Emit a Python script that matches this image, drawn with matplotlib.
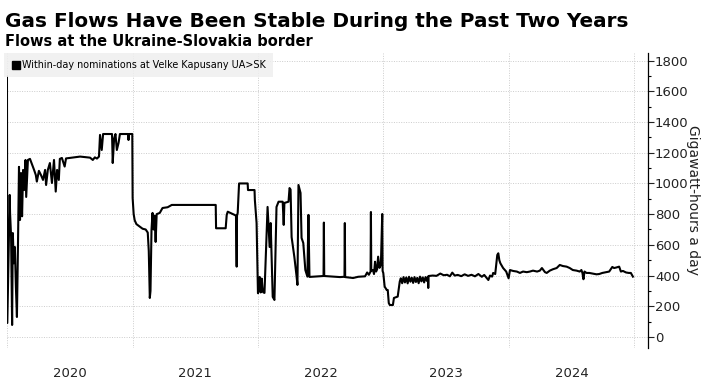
import numpy as np
import pandas as pd
import matplotlib
matplotlib.use("Agg")
import matplotlib.pyplot as plt
from matplotlib.lines import Line2D

# Within-day nominations at Velke Kapusany UA>SK, GWh/day
dates_2020 = ["2020-01-01", "2020-01-02", "2020-01-09", "2020-01-10", "2020-01-13", "2020-01-16",
              "2020-01-18", "2020-01-21", "2020-01-24", "2020-01-27", "2020-01-30", "2020-02-02",
              "2020-02-05", "2020-02-08", "2020-02-11", "2020-02-14", "2020-02-17", "2020-02-20",
              "2020-02-24", "2020-02-26", "2020-03-02", "2020-03-08", "2020-03-20", "2020-03-25",
              "2020-03-28", "2020-04-03", "2020-04-09", "2020-04-15", "2020-04-21", "2020-04-24",
              "2020-04-29", "2020-05-05", "2020-05-11", "2020-05-17", "2020-05-22", "2020-05-26",
              "2020-05-31", "2020-06-03", "2020-06-09", "2020-06-17", "2020-06-21", "2020-08-01",
              "2020-08-30", "2020-09-07", "2020-09-13", "2020-09-19", "2020-09-25", "2020-09-28",
              "2020-10-03", "2020-10-07", "2020-11-02", "2020-11-04", "2020-11-08", "2020-11-12",
              "2020-11-16", "2020-11-21", "2020-11-25", "2020-12-19", "2020-12-20", "2020-12-21",
              "2020-12-31"]
values_2020 = [1696, 91, 925, 808, 654, 78,
               677, 480, 586, 326, 130, 586,
               1108, 762, 1068, 786, 1088, 957,
               1153, 912, 1153, 1160, 1088, 1055,
               1012, 1082, 1055, 1023, 1088, 990,
               1088, 1133, 1003, 1153, 947, 1088,
               1023, 1160, 1166, 1110, 1163, 1175,
               1168, 1153, 1170, 1162, 1175, 1316,
               1218, 1322, 1322, 1133, 1290, 1322,
               1218, 1264, 1322, 1322, 1283, 1322,
               1322]

dates_2021 = ["2021-01-01", "2021-01-04", "2021-01-07", "2021-01-12", "2021-01-21", "2021-01-30",
              "2021-02-08", "2021-02-14", "2021-02-17", "2021-02-20", "2021-02-22", "2021-02-25",
              "2021-02-28", "2021-03-03", "2021-03-06", "2021-03-09", "2021-03-12", "2021-03-21",
              "2021-03-29", "2021-04-13", "2021-04-25", "2021-08-31", "2021-09-01", "2021-09-29",
              "2021-10-02", "2021-10-05", "2021-10-25", "2021-10-29", "2021-10-31", "2021-11-01",
              "2021-11-03", "2021-11-07", "2021-12-02", "2021-12-03", "2021-12-22", "2021-12-23",
              "2021-12-28"]
values_2021 = [905, 800, 760, 735, 720, 705,
               700, 680, 560, 254, 300, 700,
               808, 700, 790, 619, 800, 808,
               840, 845, 860, 860, 708, 708,
               795, 816, 795, 790, 458, 790,
               808, 1000, 1000, 957, 957, 892,
               742]

dates_2022 = ["2022-01-01", "2022-01-03", "2022-01-06", "2022-01-09", "2022-01-12", "2022-01-15",
              "2022-01-17", "2022-01-20", "2022-01-23", "2022-01-29", "2022-02-04", "2022-02-07",
              "2022-02-13", "2022-02-18", "2022-02-24", "2022-03-02", "2022-03-14", "2022-03-17",
              "2022-03-19", "2022-03-31", "2022-04-03", "2022-04-06", "2022-04-09", "2022-04-17",
              "2022-04-23", "2022-04-26", "2022-04-29", "2022-05-05", "2022-05-08", "2022-05-13",
              "2022-05-19", "2022-05-25", "2022-05-28", "2022-05-31", "2022-07-11", "2022-07-12",
              "2022-07-13", "2022-08-28", "2022-09-10", "2022-09-11", "2022-09-12", "2022-10-05",
              "2022-10-20", "2022-11-09", "2022-11-15", "2022-11-20", "2022-11-25", "2022-11-26",
              "2022-11-27", "2022-12-02", "2022-12-05", "2022-12-08", "2022-12-11", "2022-12-14",
              "2022-12-17", "2022-12-21", "2022-12-25", "2022-12-29", "2022-12-30"]
values_2022 = [285, 300, 391, 290, 380, 295,
               290, 287, 480, 847, 586, 742,
               261, 241, 847, 881, 881, 730,
               873, 881, 970, 960, 651, 521,
               404, 339, 990, 938, 645, 612,
               436, 393, 795, 391, 397, 745,
               397, 390, 392, 742, 390, 384,
               392, 395, 420, 405, 426, 814,
               430, 436, 410, 490, 426, 440,
               523, 450, 470, 801, 430]

dates_2023 = ["2023-01-01", "2023-01-05", "2023-01-11", "2023-01-14", "2023-01-17", "2023-01-20",
              "2023-01-29", "2023-02-01", "2023-02-12", "2023-02-18", "2023-02-21", "2023-02-25",
              "2023-03-01", "2023-03-05", "2023-03-09", "2023-03-13", "2023-03-17", "2023-03-21",
              "2023-03-25", "2023-03-29", "2023-04-02", "2023-04-06", "2023-04-10", "2023-04-14",
              "2023-04-18", "2023-04-22", "2023-04-26", "2023-04-30", "2023-05-04", "2023-05-08",
              "2023-05-11", "2023-05-12", "2023-05-13", "2023-05-25", "2023-06-05", "2023-06-16",
              "2023-06-26", "2023-07-06", "2023-07-14", "2023-07-21", "2023-07-28", "2023-08-06",
              "2023-08-16", "2023-08-26", "2023-09-05", "2023-09-15", "2023-09-25", "2023-10-05",
              "2023-10-15", "2023-10-22", "2023-10-29", "2023-11-03", "2023-11-08", "2023-11-14",
              "2023-11-17", "2023-11-23", "2023-11-29", "2023-12-02", "2023-12-05", "2023-12-08",
              "2023-12-16", "2023-12-25"]
values_2023 = [417, 328, 306, 306, 221, 208,
               208, 254, 263, 361, 382, 350,
               390, 355, 388, 349, 392, 360,
               386, 352, 390, 358, 385, 350,
               393, 362, 388, 355, 390, 365,
               392, 319, 397, 400, 398, 413,
               402, 405, 395, 419, 400, 404,
               396, 408, 398, 405, 395, 410,
               392, 404, 385, 371, 400, 393,
               417, 410, 534, 545, 500, 480,
               449, 426]

dates_2024 = ["2024-01-01", "2024-01-05", "2024-01-14", "2024-01-25", "2024-02-03", "2024-02-12",
              "2024-02-23", "2024-03-03", "2024-03-12", "2024-03-24", "2024-04-01", "2024-04-07",
              "2024-04-16", "2024-04-21", "2024-04-30", "2024-05-09", "2024-05-20", "2024-05-29",
              "2024-06-07", "2024-06-18", "2024-06-27", "2024-07-06", "2024-07-17", "2024-07-26",
              "2024-07-31", "2024-08-03", "2024-08-06", "2024-08-09", "2024-08-15", "2024-08-23",
              "2024-09-01", "2024-09-13", "2024-09-21", "2024-09-30", "2024-10-11", "2024-10-20",
              "2024-10-29", "2024-11-03", "2024-11-09", "2024-11-18", "2024-11-23", "2024-11-29",
              "2024-12-08", "2024-12-16", "2024-12-22", "2024-12-28"]
values_2024 = [382, 436, 430, 426, 417, 426,
               422, 426, 432, 426, 432, 449,
               422, 417, 432, 441, 449, 469,
               462, 458, 449, 436, 432, 426,
               436, 417, 376, 426, 417, 417,
               413, 408, 410, 417, 422, 426,
               456, 449, 452, 458, 426, 430,
               420, 417, 417, 393]

year_labels = ["2020", "2021", "2022", "2023", "2024"]
y_ticks = [0, 200, 400, 600, 800, 1000, 1200, 1400, 1600, 1800]

dates = pd.to_datetime(dates_2020 + dates_2021 + dates_2022 + dates_2023 + dates_2024)
values = values_2020 + values_2021 + values_2022 + values_2023 + values_2024

fig = plt.figure(figsize=(7.11, 3.81), dpi=100)
ax = fig.add_axes([0.0098, 0.0866, 0.9016, 0.7744])

ax.plot(dates, values, color="black", linewidth=1.5, zorder=3)

ax.set_ylim(-72, 1850)
ax.set_xlim(pd.Timestamp("2020-01-01"), pd.Timestamp("2025-02-10"))

# y axis on the right
ax.yaxis.tick_right()
ax.yaxis.set_label_position("right")
ax.set_yticks(y_ticks)
ax.set_yticks(np.arange(100, 1800, 200), minor=True)
ax.tick_params(axis="y", which="major", length=4, width=0.8, pad=1, labelsize=9.5, colors="#222222")
ax.tick_params(axis="y", which="minor", length=2.5, width=0.8)
ax.set_ylabel("Gigawatt-hours a day", rotation=-90, fontsize=10, labelpad=8, color="#222222")

# year gridlines at boundaries, labels centred in each year
year_starts = pd.to_datetime([f"{y}-01-01" for y in range(2020, 2026)])
ax.set_xticks(year_starts)
ax.set_xticklabels([])
mids = pd.to_datetime([f"{y}-07-02" for y in year_labels])
ax.set_xticks(mids, minor=True)
ax.set_xticklabels(year_labels, minor=True)
ax.tick_params(axis="x", which="both", length=0, pad=14, labelsize=9.5, colors="#222222")

ax.grid(True, which="major", axis="both", color="#cccccc", linestyle=(0, (1, 1.5)), linewidth=0.7)
ax.set_axisbelow(True)

for side in ["left", "top", "bottom"]:
    ax.spines[side].set_visible(False)
ax.spines["right"].set_linewidth(0.9)

leg_handle = Line2D([], [], marker="s", color="black", linestyle="none", markersize=5.5)
leg = ax.legend([leg_handle], ["Within-day nominations at Velke Kapusany UA>SK"],
                loc="upper left", bbox_to_anchor=(-0.004, 1.0), frameon=True, fancybox=False,
                facecolor="#efefef", edgecolor="none", framealpha=0.85, fontsize=6.9,
                borderaxespad=0, handletextpad=0.1, handlelength=1.0, borderpad=0.75)

fig.text(0.007, 0.93, "Gas Flows Have Been Stable During the Past Two Years",
         fontsize=14.4, fontweight="bold", ha="left", va="baseline")
fig.text(0.007, 0.88, "Flows at the Ukraine-Slovakia border",
         fontsize=10.5, fontweight="bold", ha="left", va="baseline")

fig.savefig("out.png", dpi=100)
